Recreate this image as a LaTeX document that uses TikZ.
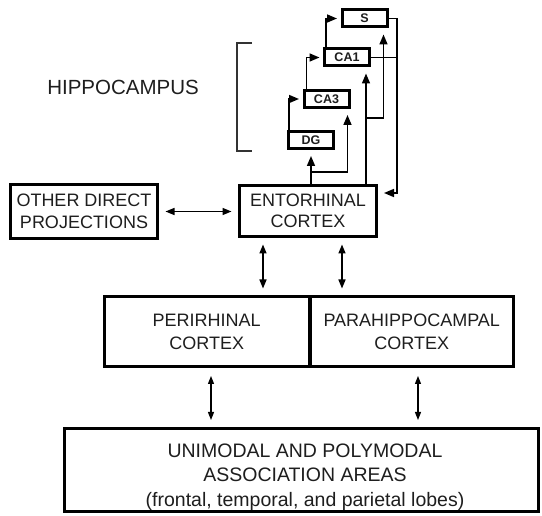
\documentclass[tikz,border=0pt]{standalone}
\usepackage{fontspec}
\setmainfont{Liberation Sans}
\usetikzlibrary{arrows.meta,calc}
\definecolor{ink}{HTML}{1E1E1E}
\definecolor{bracketgray}{HTML}{333333}

\begin{document}
\begin{tikzpicture}[x=1pt,y=-1pt,
  box/.style={draw=black, line width=3pt, fill=white, inner sep=0pt, align=center, text=ink},
  region/.style={box, font=\fontsize{18}{21.5}\selectfont},
  field/.style={draw=black, line width=3pt, fill=white, inner sep=0pt,
    minimum width=45pt, minimum height=17pt, text=ink,
    font=\bfseries\fontsize{12.5}{14}\selectfont},
  link/.style={line width=1.5pt, -{Triangle[length=10pt,width=8pt]}, shorten >=6pt},
  plain/.style={line width=1.5pt},
  flag/.style={line width=1.5pt, -{Triangle[length=10pt,width=8pt]}, shorten >=3.5pt},
  both/.style={line width=1.5pt,
    {Triangle[length=9pt,width=7pt]}-{Triangle[length=9pt,width=7pt]},
    shorten >=6.5pt, shorten <=6.5pt},
  slim/.style={line width=1.3pt,
    {Triangle[length=8pt,width=6pt]}-{Triangle[length=8pt,width=6pt]},
    shorten >=7pt, shorten <=8pt},
]
\useasboundingbox (0,0) rectangle (542,516);

% hippocampal fields
\node[field] (s)   at (364.5,18.5) {S};
\node[field] (ca1) at (347,57.5)   {CA1};
\node[field] (ca3) at (326.5,99)   {CA3};
\node[field] (dg)  at (311,140)    {DG};

% cortical regions
\node[region, minimum width=147pt, minimum height=54pt] (other) at (84,211.5) {OTHER DIRECT\\PROJECTIONS};
\node[region, minimum width=137pt, minimum height=51pt] (ec) at (308,211) {ENTORHINAL\\CORTEX};
\node[region, font=\fontsize{18}{23}\selectfont, minimum width=204.5pt, minimum height=70pt] (peri) at (206.75,331.5) {PERIRHINAL\\CORTEX};
\node[region, font=\fontsize{18}{23}\selectfont, minimum width=203.5pt, minimum height=70pt] (para) at (411.75,331.5) {PARAHIPPOCAMPAL\\CORTEX};
\node[box, minimum width=474pt, minimum height=83pt] (assoc) at (301.5,470) {};
\node[align=center, text=ink, inner sep=0pt, font=\fontsize{19.5}{24.5}\selectfont] (assoctext) at (305,477)
  {UNIMODAL AND POLYMODAL\\ASSOCIATION AREAS\\(frontal, temporal, and parietal lobes)};

% bracket and label
\node[text=ink, font=\fontsize{20.5}{24}\selectfont] (hip) at (123,87) {HIPPOCAMPUS};
\draw[line width=1.5pt, draw=bracketgray] (252,43) -| (237,151) -- (252,151);

% trisynaptic chain
\draw[flag] ($(dg.north west)+(2,0)$) |- (ca3.west);
\draw[flag] ($(ca3.north west)+(4,0)$) |- (ca1.west);
\draw[flag] ($(ca1.north west)+(3,0)$) |- (s.west);

% entorhinal inputs to the hippocampus
\draw[link] (ec.north -| dg.south) -- (dg.south);
\draw[link] (ec.north -| dg.south) -- ++(0,-12) -| ($(ca3.south east)+(-3,0)$);
\coordinate (c1) at ($(ca1.south east)+(-5,0)$);
\draw[link] (ec.north -| c1) -- (c1);
\draw[link] (c1 |- 0,118) -| ($(s.south east)+(-5,0)$);

% hippocampal output back to entorhinal cortex
\coordinate (fb) at (397,193);
\draw[link] (s.east) -| (fb) -- (fb -| ec.east);
\draw[plain] (ca1.east) -- (ca1.east -| fb);

% reciprocal cortical connections
\draw[both] (other.east) -- (other.east -| ec.west);
\coordinate (a1) at (263,0);
\coordinate (a2) at (342,0);
\draw[both] (ec.south -| a1) -- (peri.north -| a1);
\draw[both] (ec.south -| a2) -- (para.north -| a2);
\coordinate (b1) at (211,0);
\coordinate (b2) at (418,0);
\draw[slim] (peri.south -| b1) -- (assoc.north -| b1);
\draw[slim] (para.south -| b2) -- (assoc.north -| b2);
\end{tikzpicture}
\end{document}
